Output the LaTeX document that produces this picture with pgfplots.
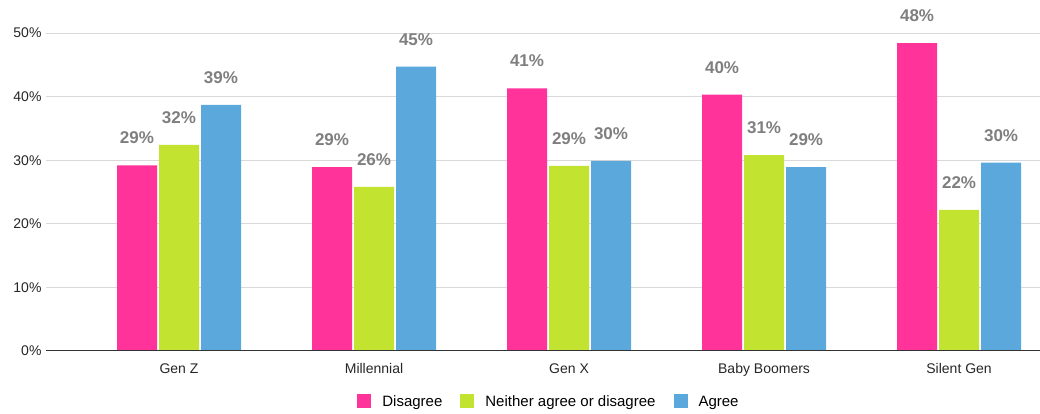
\documentclass[border=0pt]{standalone}
\usepackage{fontspec}
\setmainfont{Liberation Sans}
\usepackage{pgfplots}
\pgfplotsset{compat=1.18}
\definecolor{pinkD}{HTML}{FF3399}
\definecolor{limeN}{HTML}{C2E330}
\definecolor{blueA}{HTML}{5BA8DC}
\definecolor{lblgray}{HTML}{7F7F7F}
\definecolor{gridgray}{HTML}{D9D9D9}

\pgfplotstableread{
x disagree neither agree
0 29.2 32.4 38.7
1 28.9 25.8 44.7
2 41.3 29.1 29.9
3 40.3 30.8 28.9
4 48.4 22.2 29.6
}\gendata

\begin{document}
\begin{tikzpicture}
\useasboundingbox (-46pt,-63pt) rectangle (994pt,351pt);
\begin{axis}[
    at={(0pt,0pt)}, anchor=south west,
    scale only axis,
    width=994pt, height=318pt,
    ybar=2pt, bar width=40pt,
    xmin=-0.682, xmax=4.415,
    ymin=0, ymax=50,
    clip=false,
    axis line style={draw=none},
    ymajorgrids=true,
    grid style={gridgray, line width=1pt},
    ytick={0,10,20,30,40,50},
    yticklabel={\pgfmathprintnumber{\tick}\%},
    yticklabel style={font=\fontsize{14}{16}\selectfont, text=black!85, xshift=-1pt},
    xtick=data,
    xticklabels={Gen Z, Millennial, Gen X, Baby Boomers, Silent Gen},
    xticklabel style={font=\fontsize{14}{16}\selectfont, text=black!85, yshift=-9pt},
    major tick length=0pt,
    /pgf/number format/assume math mode=true,
    nodes near coords={\pgfmathprintnumber[fixed,precision=0]{\pgfplotspointmeta}\%},
    nodes near coords style={font=\bfseries\fontsize{17}{19}\selectfont, text=lblgray, anchor=south, inner sep=0pt, yshift=21pt},
    legend style={at={(0.506,-0.16)}, anchor=center, draw=none, legend columns=-1,
        font=\fontsize{15}{17}\selectfont,
        /tikz/every odd column/.append style={column sep=9pt},
        /tikz/every even column/.append style={column sep=16pt}},
    legend image code/.code={\fill[#1] (0pt,-6pt) rectangle (14pt,8pt);},
]
\addplot[draw=none, fill=pinkD] table[x=x, y=disagree] {\gendata};
\addplot[draw=none, fill=limeN] table[x=x, y=neither] {\gendata};
\addplot[draw=none, fill=blueA] table[x=x, y=agree] {\gendata};
\draw[black!80, line width=1pt] (axis cs:-0.682,0) -- (axis cs:4.415,0);
\legend{Disagree, Neither agree or disagree, Agree}
\end{axis}
\end{tikzpicture}
\end{document}
